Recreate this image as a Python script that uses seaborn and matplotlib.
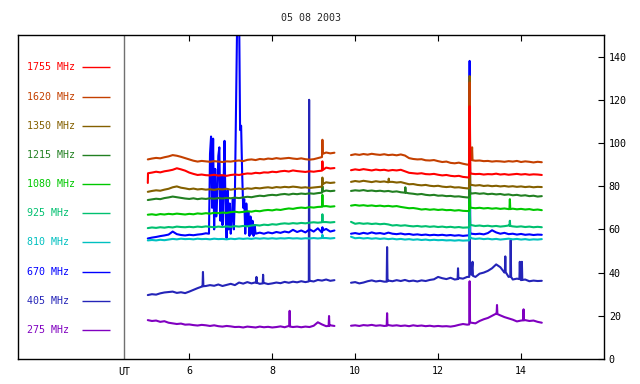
import numpy as np
import pandas as pd
import matplotlib
matplotlib.use("Agg")
import matplotlib.pyplot as plt
import seaborn as sns

# ---------------- data ----------------
title = "05 08 2003"
freqs = ["1755 MHz", "1620 MHz", "1350 MHz", "1215 MHz", "1080 MHz",
         "925 MHz", "810 MHz", "670 MHz", "405 MHz", "275 MHz"]
colors = ["#ff0000", "#c44000", "#846000", "#228022", "#00c800",
          "#00c070", "#00c0c0", "#0000ff", "#2424b8", "#8000c0"]

time_a = np.round(np.arange(5.0, 9.5001, 0.1), 2)    # 46 samples
time_b = np.round(np.arange(9.9, 14.5001, 0.1), 2)   # 47 samples

v1755_a = [81.5, 86.3, 86.7, 86.4, 86.9, 87.2, 87.6, 88.3, 87.8, 87.2, 86.3, 85.7, 85.2, 85.4, 85.1, 85.0,
           85.3, 84.9, 85.1, 84.8, 85.2, 85.4, 85.2, 85.6, 85.9, 85.8, 86.2, 86.0, 86.4, 86.3, 86.7, 86.5,
           86.9, 87.1, 86.8, 87.3, 87.0, 86.8, 86.6, 86.9, 86.7, 87.0, 87.2, 88.6, 88.2, 88.4]
v1755_b = [87.4, 87.8, 87.5, 87.9, 87.6, 87.3, 87.7, 87.4, 87.6, 87.2, 87.5, 87.3, 87.6, 86.9, 86.2, 86.0,
           85.8, 86.0, 85.6, 85.5, 85.7, 85.3, 85.0, 85.2, 84.8, 84.6, 84.8, 84.3, 84.1, 85.8, 85.6, 85.7,
           85.4, 85.6, 85.5, 85.8, 85.4, 85.6, 85.3, 85.5, 85.7, 85.4, 85.6, 85.3, 85.5, 85.4, 85.2]
v1620_a = [92.4, 92.8, 93.1, 92.9, 93.4, 93.8, 94.4, 94.1, 93.6, 93.0, 92.4, 91.8, 91.4, 91.7, 91.5, 91.3,
           91.6, 91.4, 91.2, 91.5, 91.4, 91.7, 91.9, 91.6, 92.2, 92.4, 92.1, 92.6, 92.4, 92.8, 92.6, 93.0,
           92.7, 92.9, 93.1, 92.8, 92.6, 92.9, 92.5, 92.3, 92.5, 93.0, 93.5, 95.6, 95.2, 95.5]
v1620_b = [94.4, 94.8, 94.5, 94.9, 94.6, 95.0, 94.7, 94.5, 94.8, 94.4, 94.6, 94.3, 94.7, 94.2, 93.0, 92.6,
           92.4, 92.5, 92.0, 91.9, 92.1, 91.6, 91.2, 91.4, 90.8, 90.6, 90.9, 90.4, 90.0, 92.2, 91.8, 91.9,
           91.6, 91.7, 91.4, 91.6, 91.5, 91.3, 91.6, 91.4, 91.7, 91.2, 91.5, 91.3, 91.0, 91.3, 91.1]
v1350_a = [77.4, 77.8, 78.1, 77.9, 78.4, 78.8, 79.5, 79.9, 79.3, 79.0, 78.6, 78.9, 78.5, 78.7, 78.4, 78.6,
           78.3, 78.7, 78.5, 78.8, 78.4, 78.7, 78.9, 78.6, 79.0, 78.8, 79.2, 79.0, 79.3, 79.5, 79.2, 79.6,
           79.4, 79.7, 79.5, 79.8, 79.6, 79.3, 79.5, 79.2, 79.4, 79.6, 79.8, 81.8, 81.5, 81.7]
v1350_b = [82.0, 82.4, 82.1, 82.5, 82.2, 81.9, 82.3, 82.0, 82.2, 81.8, 82.0, 81.7, 81.9, 81.4, 80.9, 81.0,
           80.6, 80.4, 80.6, 80.2, 80.0, 80.2, 79.8, 79.6, 79.8, 79.4, 79.5, 79.2, 79.0, 80.6, 80.3, 80.5,
           80.1, 80.3, 80.0, 80.2, 79.9, 80.1, 79.8, 80.0, 79.7, 79.9, 79.6, 79.8, 79.5, 79.7, 79.6]
v1215_a = [73.6, 73.9, 74.2, 74.0, 74.5, 74.8, 75.2, 74.9, 74.6, 74.3, 74.1, 74.4, 74.0, 74.3, 74.1, 74.4,
           74.2, 74.5, 74.3, 74.6, 74.4, 74.7, 74.5, 74.8, 75.1, 74.9, 75.3, 75.6, 75.4, 75.8, 76.0, 75.8,
           76.2, 76.4, 76.1, 76.5, 76.3, 76.6, 76.4, 76.7, 76.5, 76.8, 77.0, 78.0, 77.7, 77.9]
v1215_b = [77.8, 78.1, 77.9, 78.2, 77.8, 78.0, 77.7, 77.9, 77.6, 77.8, 77.4, 77.6, 77.2, 77.0, 76.7, 76.5,
           76.2, 76.4, 76.0, 75.8, 76.0, 75.6, 75.7, 75.4, 75.5, 75.2, 75.3, 75.0, 74.8, 76.6, 76.8, 76.5,
           76.7, 76.3, 76.5, 76.2, 76.4, 76.0, 76.2, 75.8, 76.0, 75.6, 75.8, 75.4, 75.6, 75.2, 75.4]
v1080_a = [66.8, 67.0, 66.7, 67.1, 66.9, 67.2, 67.0, 67.3, 67.1, 66.9, 67.2, 67.0, 67.4, 67.2, 67.5, 67.3,
           67.7, 67.5, 67.8, 67.6, 68.0, 68.2, 67.9, 68.1, 68.4, 68.2, 68.6, 68.4, 68.8, 69.0, 68.8, 69.2,
           69.0, 69.4, 69.7, 69.5, 69.9, 70.1, 69.9, 70.3, 70.1, 70.4, 70.5, 70.8, 70.5, 70.7]
v1080_b = [71.0, 71.3, 71.0, 71.2, 70.9, 71.1, 70.8, 71.0, 70.7, 70.9, 70.6, 70.8, 70.4, 70.1, 69.8, 69.9,
           69.6, 69.2, 69.4, 69.1, 69.3, 69.0, 69.2, 68.9, 69.0, 68.7, 68.9, 68.6, 68.5, 70.0, 69.8, 70.0,
           69.7, 69.9, 69.6, 69.8, 69.5, 69.7, 69.4, 69.6, 69.3, 69.5, 69.2, 69.4, 69.0, 69.2, 68.9]
v925_a = [60.6, 60.9, 60.7, 61.0, 60.8, 61.1, 60.9, 61.3, 61.1, 61.0, 61.2, 61.0, 61.3, 61.1, 61.4, 61.2,
          61.0, 61.3, 61.1, 61.4, 61.2, 61.5, 61.3, 61.6, 61.4, 61.8, 62.0, 61.8, 62.2, 62.0, 62.4, 62.2,
          62.6, 62.8, 62.6, 62.9, 62.7, 63.0, 62.8, 63.1, 63.3, 63.1, 63.3, 63.4, 63.2, 63.4]
v925_b = [63.5, 62.6, 62.9, 62.6, 62.8, 62.5, 62.7, 62.4, 62.6, 62.3, 61.8, 62.0, 61.7, 61.9, 61.6, 61.4,
          61.6, 61.3, 61.5, 61.2, 61.4, 61.1, 61.3, 61.0, 61.2, 60.9, 61.1, 60.8, 60.9, 62.0, 61.6, 61.8,
          61.5, 61.7, 61.4, 61.6, 61.3, 61.5, 61.8, 61.4, 61.2, 61.4, 61.1, 61.3, 61.0, 61.2, 61.0]
v810_a = [54.9, 55.1, 54.9, 55.2, 55.0, 55.3, 55.6, 55.4, 55.7, 55.5, 55.6, 55.4, 55.7, 55.5, 55.6, 55.4,
          55.7, 55.5, 55.6, 55.4, 55.7, 55.5, 55.8, 55.6, 55.8, 55.6, 55.9, 55.7, 55.9, 55.7, 55.9, 55.7,
          55.9, 55.8, 56.0, 55.8, 55.9, 55.7, 55.9, 55.8, 56.0, 55.8, 56.0, 56.0, 55.8, 56.0]
v810_b = [56.6, 55.9, 56.1, 55.8, 56.0, 55.7, 55.9, 55.6, 55.8, 55.5, 55.7, 55.4, 55.6, 55.3, 55.5, 55.2,
          55.4, 55.1, 55.3, 55.0, 55.2, 55.0, 55.1, 54.9, 55.0, 54.8, 55.0, 54.8, 54.9, 55.9, 55.6, 55.8,
          55.5, 55.7, 55.4, 55.6, 55.3, 55.5, 55.7, 55.4, 55.6, 55.3, 55.5, 55.2, 55.4, 55.3, 55.5]
v670_a = [55.8, 56.2, 56.5, 56.9, 57.2, 57.6, 59.0, 57.8, 57.4, 57.2, 57.5, 57.3, 57.6, 57.8, 58.2, 95.0,
          60.0, 94.0, 62.0, 56.0, 58.0, 76.0, 165.0, 70.0, 62.0, 58.0, 58.0, 58.5, 58.0, 58.6, 58.2, 58.8,
          58.4, 59.0, 58.6, 59.8, 58.8, 59.5, 58.6, 60.0, 59.0, 60.5, 58.5, 60.2, 59.0, 59.5]
v670_b = [58.0, 58.3, 57.9, 58.4, 58.0, 58.6, 58.1, 58.3, 57.9, 58.5, 58.0, 57.8, 58.1, 57.7, 57.9, 57.5,
          57.7, 57.4, 57.6, 57.3, 57.5, 57.3, 57.5, 57.2, 57.4, 57.1, 57.3, 57.0, 57.2, 58.0, 57.8, 58.0,
          57.7, 58.3, 59.6, 58.6, 58.0, 58.4, 57.8, 58.0, 57.6, 57.9, 57.5, 57.7, 57.4, 57.6, 57.5]
v405_a = [29.6, 30.0, 29.8, 30.4, 30.8, 31.0, 31.2, 30.6, 30.9, 30.5, 31.2, 32.0, 32.8, 33.5, 33.8, 34.2,
          33.9, 34.5, 33.8, 34.3, 34.8, 34.2, 35.4, 34.9, 35.6, 35.0, 35.5, 34.8, 35.2, 34.7, 35.0, 35.4,
          35.1, 35.7, 35.3, 35.8, 35.5, 36.0, 35.6, 36.2, 35.9, 36.6, 36.3, 36.8, 36.2, 36.5]
v405_b = [35.3, 35.6, 35.0, 35.4, 36.0, 36.4, 35.9, 36.2, 35.8, 36.3, 36.0, 36.5, 36.1, 36.6, 36.0, 36.3,
          35.9, 36.4, 36.1, 36.6, 36.9, 38.0, 37.4, 37.0, 37.6, 36.8, 37.5, 37.2, 38.0, 39.0, 38.0, 39.5,
          40.0, 40.8, 42.0, 43.8, 42.5, 40.0, 38.0, 36.8, 37.2, 36.5, 36.8, 36.0, 36.3, 36.1, 36.2]
v275_a = [18.0, 17.6, 17.8, 17.2, 17.5, 16.8, 16.5, 16.2, 16.4, 15.9, 16.0, 15.7, 15.5, 15.8, 15.6, 15.3,
          15.6, 15.2, 15.0, 15.3, 15.1, 14.8, 14.9, 14.6, 15.0, 14.8, 14.6, 15.0, 14.7, 14.9, 14.6, 14.8,
          15.1, 14.7, 15.3, 14.8, 15.0, 14.7, 15.0, 14.8, 15.4, 17.0, 16.0, 15.2, 15.6, 15.3]
v275_b = [15.4, 15.6, 15.3, 15.7, 15.5, 15.8, 15.4, 15.6, 15.3, 15.7, 15.4, 15.6, 15.3, 15.5, 15.2, 15.6,
          15.3, 15.5, 15.2, 15.4, 15.1, 15.3, 15.1, 15.2, 15.0, 15.3, 15.8, 16.2, 15.9, 16.8, 16.5, 17.6,
          18.4, 19.0, 20.0, 21.0, 20.2, 19.4, 18.8, 18.2, 17.4, 17.8, 18.0, 17.6, 17.8, 17.2, 16.8]

# short events (spikes, with the level just beside them) as (time, value)
ev1755 = [(5.005, 86.0), (9.21, 91.5), (9.22, 87.5),
          (12.745, 84.0), (12.76, 117.0), (12.775, 86.0)]
ev1620 = [(9.21, 101.5), (9.22, 95.0),
          (12.745, 90.0), (12.76, 128.0), (12.775, 92.0), (12.82, 98.0), (12.83, 92.0)]
ev1350 = [(9.21, 84.0), (9.22, 81.0), (10.80, 82.0), (10.81, 83.5), (10.82, 82.0),
          (12.745, 79.0), (12.76, 131.0), (12.775, 80.5)]
ev1215 = [(9.21, 80.0), (9.22, 77.5), (11.20, 77.0), (11.21, 79.5), (11.22, 77.0),
          (12.745, 74.8), (12.76, 90.0), (12.775, 76.5)]
ev1080 = [(9.21, 76.0), (9.22, 70.7), (12.745, 68.5), (12.76, 86.0), (12.775, 70.0),
          (13.72, 69.4), (13.73, 74.0), (13.74, 69.4)]
ev925 = [(9.21, 67.0), (9.22, 63.4), (12.745, 60.9), (12.76, 72.0), (12.775, 62.0),
         (13.72, 61.8), (13.73, 64.0), (13.74, 61.6)]
ev810 = [(9.21, 57.5), (9.22, 56.0), (12.745, 54.9), (12.76, 63.0), (12.775, 55.9)]
ev670 = [(6.475, 58.0), (6.525, 103.0), (6.55, 70.0), (6.575, 102.0), (6.625, 88.0), (6.65, 66.0),
         (6.675, 75.0), (6.725, 98.0), (6.75, 64.0), (6.775, 85.0), (6.825, 80.0), (6.85, 101.0),
         (6.875, 68.0), (6.925, 78.0), (6.95, 60.0), (6.975, 72.0), (7.025, 66.0), (7.05, 74.0),
         (7.075, 60.0), (7.125, 113.0), (7.15, 150.0), (7.175, 165.0), (7.225, 106.0), (7.25, 108.0),
         (7.275, 86.0), (7.325, 74.0), (7.35, 58.0), (7.375, 72.0), (7.425, 68.0), (7.45, 57.0),
         (7.475, 66.0), (7.525, 64.0), (7.55, 57.0), (7.575, 62.0),
         (9.21, 61.0), (9.22, 59.5), (12.745, 57.2), (12.76, 138.0), (12.775, 58.0)]
ev405 = [(6.32, 33.6), (6.33, 40.3), (6.34, 33.7), (7.61, 35.3), (7.62, 38.0), (7.63, 35.3),
         (7.77, 35.0), (7.78, 39.0), (7.79, 35.1), (8.882, 35.9), (8.89, 120.0), (8.898, 36.1),
         (10.76, 35.8), (10.77, 51.8), (10.78, 36.0), (12.47, 37.0), (12.48, 42.0), (12.49, 37.2),
         (12.75, 38.0), (12.76, 57.0), (12.77, 40.0), (12.83, 45.0), (12.84, 38.5),
         (13.61, 40.5), (13.62, 47.5), (13.63, 40.2), (13.74, 38.2), (13.75, 55.0), (13.76, 38.0),
         (13.96, 37.0), (13.97, 45.0), (13.98, 37.0), (14.01, 36.6), (14.02, 45.0), (14.03, 36.6)]
ev275 = [(8.41, 15.2), (8.42, 22.3), (8.43, 15.0), (9.36, 15.3), (9.37, 19.9), (9.38, 15.4),
         (10.76, 15.4), (10.77, 21.2), (10.78, 15.6), (12.75, 16.0), (12.76, 36.0), (12.77, 17.0),
         (13.41, 20.8), (13.42, 25.0), (13.43, 20.8), (14.05, 17.9), (14.06, 23.0), (14.07, 17.9)]

seg_a = [v1755_a, v1620_a, v1350_a, v1215_a, v1080_a, v925_a, v810_a, v670_a, v405_a, v275_a]
seg_b = [v1755_b, v1620_b, v1350_b, v1215_b, v1080_b, v925_b, v810_b, v670_b, v405_b, v275_b]
events = [ev1755, ev1620, ev1350, ev1215, ev1080, ev925, ev810, ev670, ev405, ev275]

x_ticks = [6, 8, 10, 12, 14]
y_ticks = [0, 20, 40, 60, 80, 100, 120, 140]
ut_x = 4.43

# ---------------- style ----------------
sns.set_theme(style="white")
plt.rcParams["font.family"] = ["DejaVu Sans Mono"]
FS = 7.2

fig = plt.figure(figsize=(6.4, 3.84), dpi=100)
ax = fig.add_axes([18 / 640, 1 - 359 / 384, (604 - 18) / 640, (359 - 35) / 384])

gap = 9.7
# lowest frequency drawn first so higher frequencies lie on top
series = list(zip(freqs, colors, seg_a, seg_b, events))[::-1]
for name, col, a, b, ev in series:
    ta = list(time_a) + [t for t, _ in ev if t < gap]
    va = list(a) + [v for t, v in ev if t < gap]
    tb = list(time_b) + [t for t, _ in ev if t > gap]
    vb = list(b) + [v for t, v in ev if t > gap]
    for tt, vv in ((ta, va), (tb, vb)):
        df = pd.DataFrame({"t": tt, "v": vv}).sort_values("t", kind="mergesort")
        sns.lineplot(data=df, x="t", y="v", ax=ax, color=col, lw=1.5,
                     estimator=None, errorbar=None, sort=True, legend=False)

# in-plot legend
label_y = [135 - 13.5 * i for i in range(len(freqs))]
for name, col, yy in zip(freqs, colors, label_y):
    ax.text(2.09, yy, name, color=col, fontsize=FS, ha="left", va="center")
ax.hlines(label_y, 3.42, 4.10, colors=colors, lw=1.0)

ax.axvline(ut_x, color="#707070", lw=1.0)
ax.text(ut_x, -0.025, "UT", transform=ax.get_xaxis_transform(),
        ha="center", va="top", fontsize=FS, color="black")

ax.set_xlim(1.87, 16.0)
ax.set_ylim(0, 150)
ax.set_xticks(x_ticks)
ax.set_xticklabels([str(v) for v in x_ticks])
ax.set_yticks(y_ticks)
ax.set_yticklabels([str(v) for v in y_ticks])
ax.yaxis.tick_right()
ax.tick_params(axis="x", direction="in", length=4, width=0.8, top=True, bottom=True,
               labelsize=FS, pad=5, colors="black")
ax.tick_params(axis="y", direction="in", length=4, width=0.8, right=True, left=False,
               labelsize=FS, pad=3.5, colors="black")
ax.set_xlabel("")
ax.set_ylabel("")
for s in ax.spines.values():
    s.set_color("black")
    s.set_linewidth(1.0)
ax.set_title(title, fontsize=FS, pad=10)
ax.grid(False)

fig.savefig("out.png", dpi=100)
